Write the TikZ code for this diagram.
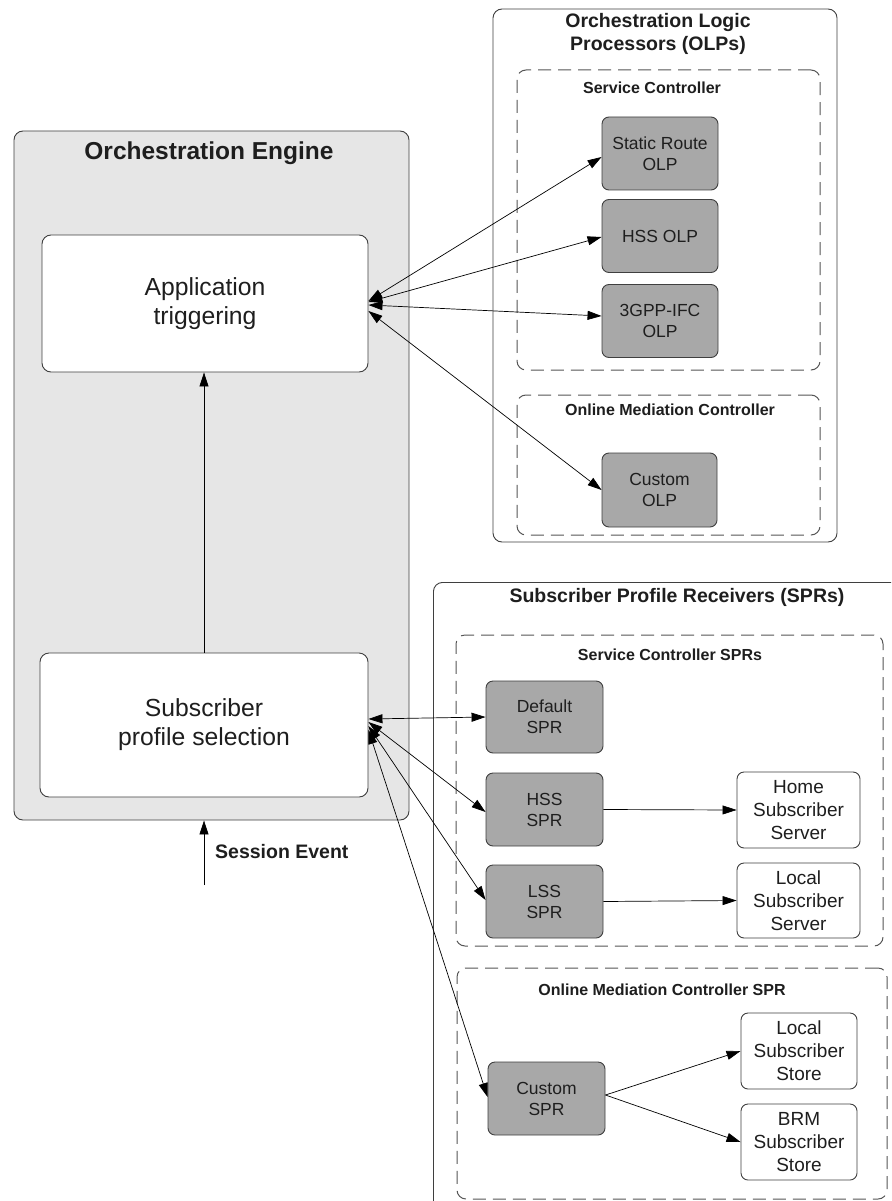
\documentclass[tikz,border=0pt]{standalone}
\usepackage{fontspec}
\setmainfont{Liberation Sans}
\usetikzlibrary{arrows.meta}

\definecolor{edgec}{HTML}{3F3F3F}
\definecolor{dashc}{HTML}{555555}
\definecolor{enginefill}{HTML}{E6E6E6}
\definecolor{grayfill}{HTML}{A8A8A8}
\definecolor{textc}{HTML}{1E1E1E}

\newcommand{\bigtext}{\fontsize{24.7}{29}\selectfont}
\newcommand{\titletext}{\fontsize{19.5}{22.5}\selectfont\bfseries}
\newcommand{\subtext}{\fontsize{16}{19}\selectfont\bfseries}
\newcommand{\graytext}{\fontsize{17.5}{21}\selectfont}
\newcommand{\whitetext}{\fontsize{19}{23}\selectfont}

\tikzset{
  bigbox/.style={draw=edgec, line width=0.9pt, rounded corners=9pt, inner sep=0pt},
  groupbox/.style={draw=dashc, line width=1pt, dash pattern=on 13pt off 7pt,
    rounded corners=9pt, inner sep=0pt},
  stagebox/.style={draw=edgec, fill=white, line width=0.9pt, rounded corners=9pt,
    align=center, font=\bigtext, text=textc, inner sep=0pt},
  graybox/.style={draw=edgec, fill=grayfill, line width=0.9pt, rounded corners=7pt,
    minimum width=116pt, minimum height=73pt, align=center, font=\graytext,
    text=textc, inner sep=0pt},
  whitebox/.style={draw=edgec, fill=white, line width=0.9pt, rounded corners=7pt,
    minimum width=118pt, minimum height=76pt, align=center, font=\whitetext,
    text=textc, inner sep=0pt},
  title/.style={font=\titletext, text=textc, align=center, inner sep=0pt},
  subtitle/.style={font=\subtext, text=textc, align=center, inner sep=0pt},
  tip/.tip={Triangle[length=14pt,width=9pt]},
  link/.style={draw=black, line width=0.7pt, tip-tip},
  flow/.style={draw=black, line width=0.7pt, -tip},
}

\begin{document}
\begin{tikzpicture}[x=1pt,y=-1pt]
\clip (0,0) rectangle (891,1201);

% ---------- Orchestration Engine ----------
\node[bigbox, fill=enginefill, minimum width=395pt, minimum height=689pt]
  (engine) at (211.5,475.5) {};
\node[title, font=\fontsize{24.5}{28}\selectfont\bfseries] (enginetitle) at (209,153) {Orchestration Engine};
\node[stagebox, minimum width=326pt, minimum height=137pt] (app) at (205,303.5)
  {Application\\triggering};
\node[stagebox, minimum width=328pt, minimum height=144pt] (sel) at (204,725)
  {Subscriber\\profile selection};

% ---------- Orchestration Logic Processors ----------
\node[bigbox, fill=white, minimum width=344pt, minimum height=533pt]
  (olps) at (665,275.5) {};
\node[title] (olpstitle) at (658,34) {Orchestration Logic\\Processors (OLPs)};

\node[groupbox, minimum width=303pt, minimum height=300pt] (sc) at (668.5,220) {};
\node[subtitle] (sctitle) at (652,88) {Service Controller};
\node[graybox] (static) at (660,153.5) {Static Route\\OLP};
\node[graybox] (hssolp) at (660,236) {HSS OLP};
\node[graybox] (ifc) at (660,321) {3GPP-IFC\\OLP};

\node[groupbox, minimum width=303pt, minimum height=140pt] (omc) at (668.5,465) {};
\node[subtitle] (omctitle) at (670,410) {Online Mediation Controller};
\node[graybox, minimum width=115pt, minimum height=74pt] (customolp) at (659.5,490) {Custom\\OLP};

% ---------- Subscriber Profile Receivers ----------
\node[bigbox, fill=white, minimum width=480pt, minimum height=640pt, anchor=north west]
  (sprs) at (433,582) {};
\node[title] (sprstitle) at (677,597) {Subscriber Profile Receivers (SPRs)};

\node[groupbox, minimum width=427pt, minimum height=311pt] (scspr) at (669.5,790.5) {};
\node[subtitle] (scsprtitle) at (670,655) {Service Controller SPRs};
\node[graybox, minimum width=117pt, minimum height=72pt] (defspr) at (544.5,717) {Default\\SPR};
\node[graybox, minimum width=117pt] (hssspr) at (544.5,809.5) {HSS\\SPR};
\node[graybox, minimum width=117pt] (lssspr) at (544.5,901.5) {LSS\\SPR};
\node[whitebox, minimum width=123pt] (hsserver) at (798.5,810) {Home\\Subscriber\\Server};
\node[whitebox, minimum width=123pt, minimum height=75pt] (lsserver) at (798.5,900.5) {Local\\Subscriber\\Server};

\node[groupbox, minimum width=430pt, minimum height=231pt] (omcspr) at (672,1083.5) {};
\node[subtitle] (omcsprtitle) at (662,990) {Online Mediation Controller SPR};
\node[graybox, minimum width=117pt] (customspr) at (546.5,1098.5) {Custom\\SPR};
\node[whitebox, minimum width=116pt] (lstore) at (799,1051) {Local\\Subscriber\\Store};
\node[whitebox, minimum width=116pt] (brm) at (799,1142) {BRM\\Subscriber\\Store};

% ---------- Session event ----------
\coordinate (evt) at (204,885);
\node[font=\titletext, text=textc, anchor=west, inner sep=0pt] (evtlabel) at (215,852) {Session Event};

% ---------- Connectors ----------
\draw[flow] (evt) -- (evt |- engine.south);
\draw[flow] (sel.north -| 204,0) -- (app.south -| 204,0);

\draw[link] (app.east |- 0,301) -- (static.west |- 0,157);
\draw[link] (app.east |- 0,302) -- (hssolp.west |- 0,237);
\draw[link] (app.east |- 0,305) -- (ifc.west |- 0,316);
\draw[link] (app.east |- 0,311) -- (customolp.west);

\draw[link] (sel.east |- 0,719) -- (defspr.west |- 0,717);
\draw[link] (sel.east |- 0,722) -- (hssspr.west |- 0,812);
\draw[link] (sel.east |- 0,726) -- (lssspr.west |- 0,900);
\draw[link] (sel.east |- 0,730) -- (customspr.west |- 0,1097);

\draw[flow] (hssspr.east) -- (hsserver.west);
\draw[flow] (lssspr.east) -- (lsserver.west);
\draw[flow] (customspr.east |- 0,1095) -- (lstore.west);
\draw[flow] (customspr.east |- 0,1095) -- (brm.west);
\end{tikzpicture}
\end{document}
